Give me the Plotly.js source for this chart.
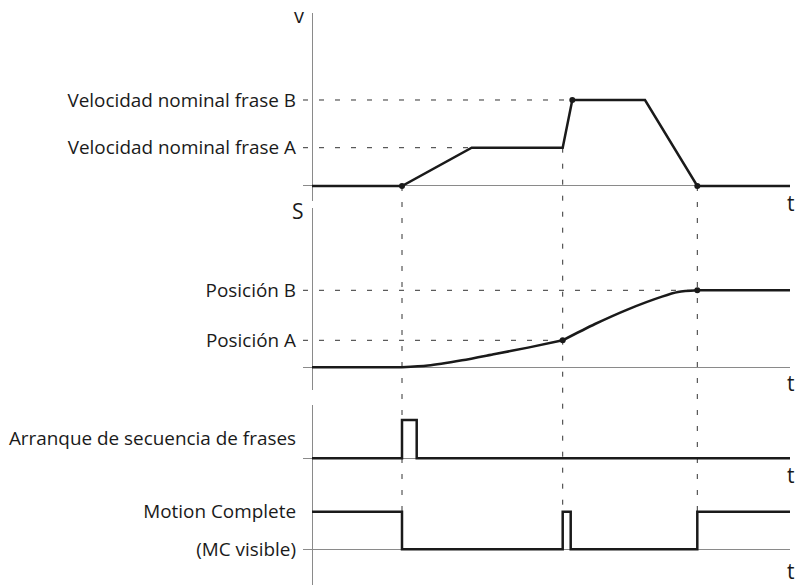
<!DOCTYPE html>
<html>
<head>
<meta charset="utf-8">
<script src="https://cdn.plot.ly/plotly-3.0.1.min.js"></script>
<style>html,body{margin:0;padding:0;background:#fff;}#chart{width:800px;height:585px;}</style>
</head>
<body>
<div id="chart"></div>
<script>
// ---- data (time in arbitrary units) ----
const tEnd = 47.8;
const eventT = [9.0, 25.07, 38.53];          // start, phase change, motion end

const velT = [0, 9.0, 15.97, 25.07, 26.03, 33.3, 38.53, 47.8];
const velV = [0, 0, 38.3, 38.3, 86, 86, 0, 0];
const velA = 38.3, velB = 86;
const velLabels = ["Velocidad nominal frase A", "Velocidad nominal frase B"];

const posFlat0T = [0, 9.0];
const posFlat0S = [0, 0];
const posRise1T = [9.0, 11.6, 15.0, 18.3, 21.6, 25.07];
const posRise1S = [0, 1.7, 7.0, 13.3, 19.7, 27.0];
const posRise2T = [25.07, 28.3, 31.6, 35.0, 36.6, 38.53];
const posRise2S = [27.0, 43.3, 58.0, 70.7, 75.3, 77.0];
const posFlat1T = [38.53, 47.8];
const posFlat1S = [77.0, 77.0];
const posA = 27.0, posB = 77.0;
const posLabels = ["Posición A", "Posición B"];

const startT = [0, 9.0, 9.0, 10.47, 10.47, 47.8];
const startV = [0, 0, 38.3, 38.3, 0, 0];
const startLabel = ["Arranque de secuencia de frases"];
const startLabelV = [20];

const mcT = [0, 9.0, 9.0, 25.07, 25.07, 25.87, 25.87, 38.53, 38.53, 47.8];
const mcV = [37.6, 37.6, 0, 0, 37.6, 37.6, 0, 0, 37.6, 37.6];
const mcHigh = 37.6;
const mcLabels = ["(MC visible)", "Motion Complete"];

// ---- styling ----
const FONT = "Open Sans, Noto Sans, sans-serif";
const INK = "#1a1a1a";
const AX = "#8a8a8a";
const DASH = "5px,11px";

const dom = {
  y:  [0.65641, 0.97778],
  y2: [0.33333, 0.64444],
  y3: [0.17094, 0.30769],
  y4: [0.0, 0.17094]
};
const rng = {
  y:  [-15, 173],
  y2: [-22.7, 159.3],
  y3: [-26.7, 53.3],
  y4: [-35.7, 64.3]
};
function paperY(ax, v) {
  const d = dom[ax], r = rng[ax];
  return d[0] + (v - r[0]) / (r[1] - r[0]) * (d[1] - d[0]);
}

const solid = {color: INK, width: 2.5};
const dashed = {color: "#333", width: 1, dash: DASH};
const xL = -0.9;

const traces = [
  // horizontal guides
  {x: [xL, velT[2]], y: [velA, velA], xaxis: "x", yaxis: "y", mode: "lines", line: dashed},
  {x: [xL, velT[4]], y: [velB, velB], xaxis: "x", yaxis: "y", mode: "lines", line: dashed},
  {x: [xL, eventT[1]], y: [posA, posA], xaxis: "x2", yaxis: "y2", mode: "lines", line: dashed},
  {x: [xL, eventT[2]], y: [posB, posB], xaxis: "x2", yaxis: "y2", mode: "lines", line: dashed},
  // signals
  {x: velT, y: velV, xaxis: "x", yaxis: "y", mode: "lines", line: solid},
  {x: posFlat0T, y: posFlat0S, xaxis: "x2", yaxis: "y2", mode: "lines", line: solid},
  {x: posRise1T, y: posRise1S, xaxis: "x2", yaxis: "y2", mode: "lines", line: Object.assign({shape: "spline", smoothing: 0.8}, solid)},
  {x: posRise2T, y: posRise2S, xaxis: "x2", yaxis: "y2", mode: "lines", line: Object.assign({shape: "spline", smoothing: 0.8}, solid)},
  {x: posFlat1T, y: posFlat1S, xaxis: "x2", yaxis: "y2", mode: "lines", line: solid},
  {x: startT, y: startV, xaxis: "x3", yaxis: "y3", mode: "lines", line: solid},
  {x: mcT, y: mcV, xaxis: "x4", yaxis: "y4", mode: "lines", line: solid},
  // dots
  {x: [eventT[0], velT[4], eventT[2]], y: [0, velB, 0], xaxis: "x", yaxis: "y", mode: "markers",
   marker: {color: INK, size: 6}},
  {x: [eventT[1], eventT[2]], y: [posA, posB], xaxis: "x2", yaxis: "y2", mode: "markers",
   marker: {color: INK, size: 6}}
];

// vertical guides across panels
const vStart = [0, velA, 0];
const shapes = eventT.map((t, i) => ({
  type: "line", layer: "below", xref: "x", yref: "paper",
  x0: t, x1: t, y0: paperY("y", vStart[i]), y1: paperY("y4", mcHigh),
  line: {color: "#333", width: 1, dash: DASH}
}));

function xax(anchor) {
  return {domain: [0, 1], range: [xL, tEnd], anchor: anchor, showgrid: false, showline: false,
    showticklabels: false, ticks: "", zeroline: true, zerolinecolor: AX, zerolinewidth: 1, fixedrange: true};
}
function yax(key, anchor, vals, texts) {
  return {domain: dom[key], range: rng[key], anchor: anchor, showgrid: false, showline: false,
    zeroline: true, zerolinecolor: AX, zerolinewidth: 1, tickmode: "array", tickvals: vals, ticktext: texts,
    ticks: "", ticklabelstandoff: 6, tickfont: {family: FONT, size: 18.9, color: INK}, fixedrange: true};
}

const axFont = {family: FONT, size: 21, color: INK};
const annotations = [
  {text: "v", xref: "x", yref: "y", x: 0, y: rng.y[1], xanchor: "right", yanchor: "top", xshift: -6, yshift: 13, showarrow: false, font: {family: FONT, size: 20, color: INK}},
  {text: "S", xref: "x2", yref: "y2", x: 0, y: rng.y2[1], xanchor: "right", yanchor: "middle", xshift: -6, yshift: -3, showarrow: false, font: axFont},
  {text: "t", xref: "x", yref: "y", x: tEnd, y: 0, xanchor: "center", yanchor: "middle", xshift: 1, yshift: -17, showarrow: false, font: axFont},
  {text: "t", xref: "x2", yref: "y2", x: tEnd, y: 0, xanchor: "center", yanchor: "middle", xshift: 1, yshift: -16, showarrow: false, font: axFont},
  {text: "t", xref: "x3", yref: "y3", x: tEnd, y: 0, xanchor: "center", yanchor: "middle", xshift: 1, yshift: -17, showarrow: false, font: axFont},
  {text: "t", xref: "x4", yref: "y4", x: tEnd, y: 0, xanchor: "center", yanchor: "middle", xshift: 1, yshift: -22, showarrow: false, font: axFont}
];

const layout = {
  width: 800, height: 585,
  margin: {l: 303, r: 10, t: 0, b: 0},
  paper_bgcolor: "#fff", plot_bgcolor: "rgba(0,0,0,0)",
  showlegend: false,
  font: {family: FONT, color: INK},
  xaxis: xax("y"), xaxis2: xax("y2"), xaxis3: xax("y3"), xaxis4: xax("y4"),
  yaxis: yax("y", "x", [velA, velB], velLabels),
  yaxis2: yax("y2", "x2", [posA, posB], posLabels),
  yaxis3: yax("y3", "x3", startLabelV, startLabel),
  yaxis4: yax("y4", "x4", [0, mcHigh], mcLabels),
  shapes: shapes,
  annotations: annotations
};

Plotly.newPlot("chart", traces, layout, {staticPlot: true, displayModeBar: false});
</script>
</body>
</html>
